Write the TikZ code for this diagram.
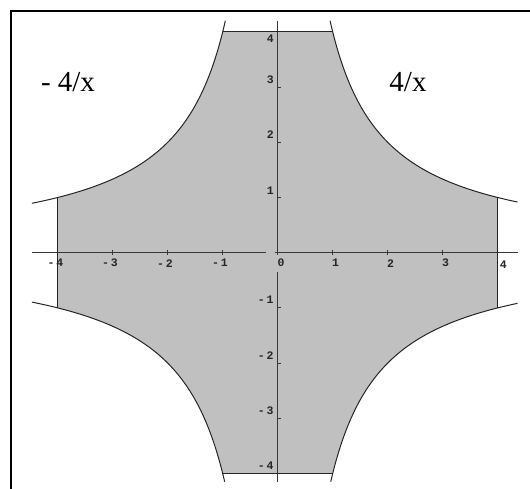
\documentclass[tikz,border=0pt]{standalone}
\usepackage{fontspec}
\setmainfont{Liberation Serif}
\newfontfamily\tickfont{Liberation Mono}
\definecolor{regfill}{HTML}{C0C0C0}
\definecolor{axcol}{HTML}{383838}
\begin{document}
\begin{tikzpicture}[x=1pt,y=1pt,
  axisline/.style={draw=axcol,line width=1.3pt},
  curveline/.style={draw=black!85,line width=1pt},
  ticklab/.style={font=\tickfont\bfseries\fontsize{11.5}{11.5}\selectfont,text=black!85,inner sep=0pt},
  biglab/.style={font=\fontsize{29}{29}\selectfont,inner sep=0pt}]
\useasboundingbox (0,0) rectangle (530,489);
\fill[white] (0,0) rectangle (530,489);
\begin{scope}[shift={(277.7,236.3)},x=55pt,y=55.2pt]
  % shaded region
  \fill[regfill] (-1,4) -- (1,4)
    -- plot[domain=1:4,samples=60,smooth] (\x,{4/\x})
    -- (4,-1)
    -- plot[domain=4:1,samples=60,smooth] (\x,{-4/\x})
    -- (-1,-4)
    -- plot[domain=-1:-4,samples=60,smooth] (\x,{4/\x})
    -- (-4,1)
    -- plot[domain=-4:-1,samples=60,smooth] (\x,{-4/\x})
    -- cycle;
  % axes
  \coordinate (xl) at (-4.47,0);
  \coordinate (xg1) at (-0.22,0);
  \coordinate (xg2) at (-0.05,0);
  \coordinate (xr) at (4.36,0);
  \coordinate (yt) at (0,4.2);
  \coordinate (yg1) at (0,-0.04);
  \coordinate (yg2) at (0,-0.35);
  \coordinate (yb) at (0,-4.16);
  \draw[axisline] (xl) -- (xg1);
  \draw[axisline] (xg2) -- (xr);
  \draw[axisline] (yt) -- (yg1);
  \draw[axisline] (yg2) -- (yb);
  % ticks
  \foreach \k in {-4,-3,-2,-1,1,2,3,4} {
    \draw[axisline,line width=1pt] (\k,-0.045) -- (\k,0.045);
    \draw[axisline,line width=1pt] (-0.01,\k) -- (0.065,\k);
  }
  % boundary curves
  \draw[curveline] plot[domain=0.952:4.36,samples=80,smooth] (\x,{4/\x});
  \draw[curveline] plot[domain=-0.952:-4.47,samples=80,smooth] (\x,{-4/\x});
  \draw[curveline] plot[domain=0.964:4.36,samples=80,smooth] (\x,{-4/\x});
  \draw[curveline] plot[domain=-0.964:-4.47,samples=80,smooth] (\x,{4/\x});
  \coordinate (ta) at (-1,4); \coordinate (tb) at (1,4);
  \coordinate (ba) at (-1,-4); \coordinate (bb) at (1,-4);
  \coordinate (la) at (-4,1); \coordinate (lb) at (-4,-1);
  \coordinate (ra) at (4,1); \coordinate (rb) at (4,-1);
  \draw[curveline] (ta) -- (tb);
  \draw[curveline] (ba) -- (bb);
  \draw[curveline] (la) -- (lb);
  \draw[curveline] (ra) -- (rb);
  % x tick labels
  \node[ticklab] (xm4) at (-4.04,-0.19) {-\,4};
  \node[ticklab] (xm3) at (-3.05,-0.19) {-\,3};
  \node[ticklab] (xm2) at (-2.05,-0.19) {-\,2};
  \node[ticklab] (xm1) at (-1.05,-0.19) {-\,1};
  \node[ticklab] (x0) at (0.06,-0.19) {0};
  \node[ticklab] (x1) at (1.05,-0.19) {1};
  \node[ticklab] (x2) at (2.05,-0.19) {2};
  \node[ticklab] (x3) at (3.05,-0.19) {3};
  \node[ticklab] (x4) at (4.1,-0.22) {4};
  % y tick labels
  \node[ticklab,anchor=east] (y4) at (-0.07,3.87) {4};
  \node[ticklab,anchor=east] (y3) at (-0.07,3.13) {3};
  \node[ticklab,anchor=east] (y2) at (-0.07,2.13) {2};
  \node[ticklab,anchor=east] (y1) at (-0.07,1.13) {1};
  \node[ticklab,anchor=east] (ym1) at (-0.07,-0.86) {-\,1};
  \node[ticklab,anchor=east] (ym2) at (-0.07,-1.86) {-\,2};
  \node[ticklab,anchor=east] (ym3) at (-0.07,-2.86) {-\,3};
  \node[ticklab,anchor=east] (ym4) at (-0.07,-3.86) {-\,4};
\end{scope}
% function labels
\node[biglab] (lneg) at (68,407) {- 4/x};
\node[biglab] (lpos) at (408,407) {4/x};
% frame
\coordinate (fb) at (11.2,0);
\coordinate (fc) at (11.2,478.2);
\coordinate (fr) at (530,478.2);
\draw[black,line width=2pt] (fb) -- (fc) -- (fr);
\end{tikzpicture}
\end{document}
